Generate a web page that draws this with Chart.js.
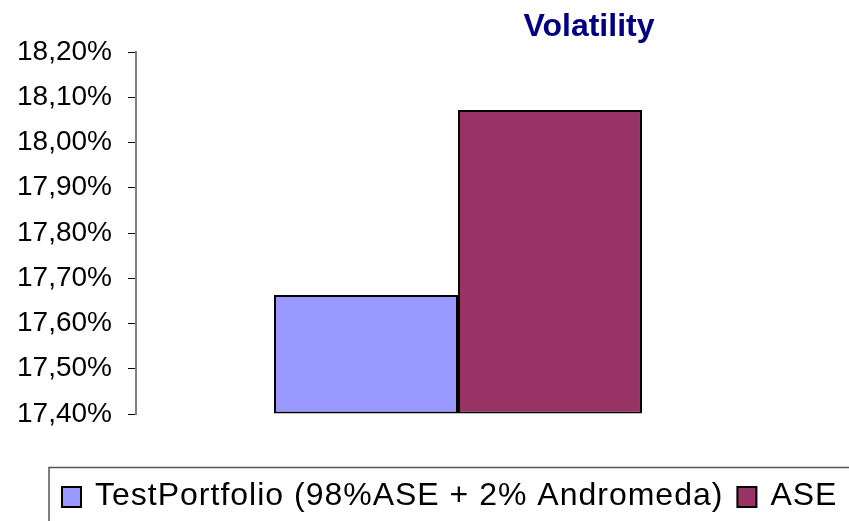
<!DOCTYPE html>
<html>
<head>
<meta charset="utf-8">
<script src="https://cdn.jsdelivr.net/npm/chart.js"></script>
<style>
	html, body { margin: 0; padding: 0; background: #fff; }
	#wrap { width: 849px; height: 521px; }
</style>
</head>
<body>
<div id="wrap"><canvas id="volatility-chart" width="849" height="521"></canvas></div>
<script>
// Volatility chart - two series, one category

var categories = [""];
var seriesNames = ["TestPortfolio (98%ASE + 2% Andromeda)", "ASE"];
var testPortfolioValues = [17.663];
var aseValues = [18.072];
var seriesColors = ["#9999FF", "#993366"];
var yMin = 17.4;
var yMax = 18.2;
var yStep = 0.1;

var FONT = "'Liberation Sans', Arial, sans-serif";

// Title drawn off-centre like the original sheet
var titlePlugin = {
	id: "sheetTitle",
	afterDraw: function (chart) {
		var ctx = chart.ctx;
		ctx.save();
		ctx.font = "bold 32px " + FONT;
		ctx.fillStyle = "#000080";
		ctx.textAlign = "center";
		ctx.textBaseline = "alphabetic";
		ctx.fillText("Volatility", 589, 36);
		ctx.restore();
	},
};

// Excel style legend with a border box, cut off at the right edge
var legendPlugin = {
	id: "sheetLegend",
	afterDraw: function (chart) {
		var ctx = chart.ctx;
		ctx.save();
		ctx.strokeStyle = "#555";
		ctx.lineWidth = 1.5;
		ctx.strokeRect(49, 467.5, 900, 100);

		ctx.font = "32px " + FONT;
		ctx.letterSpacing = "1px";
		ctx.textBaseline = "alphabetic";
		var x = 62;
		chart.data.datasets.forEach(function (ds, i) {
			ctx.fillStyle = ds.backgroundColor;
			ctx.fillRect(x, 487, 19, 20);
			ctx.strokeStyle = "#000";
			ctx.lineWidth = 2;
			ctx.strokeRect(x, 487, 19, 20);
			x += 19 + 14;
			ctx.fillStyle = "#000";
			ctx.fillText(ds.label, x, 505);
			x += ctx.measureText(ds.label).width + 14;
		});
		ctx.restore();
	},
};

var ctx = document.getElementById("volatility-chart").getContext("2d");
window.volChart = new Chart(ctx, {
	type: "bar",
	data: {
		labels: categories,
		datasets: [
			{
				label: seriesNames[0],
				data: testPortfolioValues,
				backgroundColor: seriesColors[0],
				borderColor: "#000",
				borderWidth: 2,
				borderSkipped: false,
				base: yMin,
			},
			{
				label: seriesNames[1],
				data: aseValues,
				backgroundColor: seriesColors[1],
				borderColor: "#000",
				borderWidth: 2,
				borderSkipped: false,
				base: yMin,
			},
		],
	},
	options: {
		responsive: false,
		animation: false,
		layout: { padding: { left: 0, right: 69, top: 52, bottom: 107 } },
		plugins: {
			legend: { display: false },
			title: { display: false },
			tooltip: { enabled: false },
		},
		datasets: {
			bar: { barPercentage: 1, categoryPercentage: 0.5714 },
		},
		scales: {
			x: { display: false },
			y: {
				min: yMin,
				max: yMax,
				afterFit: function (scale) {
					scale.width = 136;
				},
				ticks: {
					stepSize: yStep,
					padding: 16,
					color: "#000",
					font: { family: FONT, size: 28 },
					callback: function (v) {
						return v.toFixed(2).replace(".", ",") + "%";
					},
				},
				grid: {
					drawOnChartArea: false,
					drawTicks: true,
					tickLength: 8,
					color: "#000",
				},
				border: { display: true, color: "#808080", width: 2 },
			},
		},
	},
	plugins: [titlePlugin, legendPlugin],
});
</script>
</body>
</html>
